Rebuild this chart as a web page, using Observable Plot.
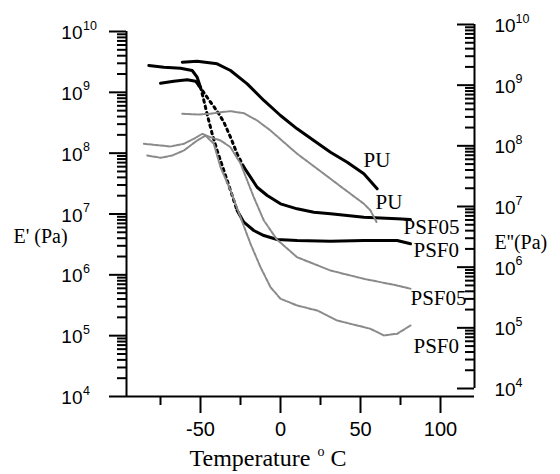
<!DOCTYPE html>
<html><head><meta charset="utf-8">
<script src="https://cdn.jsdelivr.net/npm/d3@7"></script>
<script src="https://cdn.jsdelivr.net/npm/@observablehq/plot@0.6"></script>
<style>
html,body{margin:0;padding:0;background:#fff;}
#chart{position:relative;width:560px;height:474px;}
#chart svg{position:absolute;left:0;top:0;}
</style></head><body><div id="chart"></div>
<script>
// ---------- axes / ticks ----------
const temperatureDomain = [-96.25, 121.25];
const xMajorTicks = [-50, 0, 50, 100];
const xMinorTicks = [-75, -25, 25, 75];
const decadeExponents = [4, 5, 6, 7, 8, 9, 10];
const minorMultipliers = [2, 3, 4, 5, 6, 7, 8, 9];

// ---------- E' storage modulus (left axis): [temperature °C, log10(Pa)] ----------
const puStorage = [[-61.4,9.495],[-52.1,9.512],[-39.6,9.469],[-31.25,9.359],[-20.8,9.14],[-10.4,8.866],[0,8.619],[10.4,8.40],[20.8,8.208],[31.25,8.016],[41.7,7.852],[52.1,7.66],[60.4,7.414]];
const psf0StorageGlass = [[-82.3,9.441],[-72.9,9.413],[-62.5,9.397],[-55.2,9.359],[-52.1,9.249],[-50,9.084]];
const psf0StorageDrop = [[-50,9.084],[-47.9,8.866],[-45.4,8.591],[-42.7,8.318],[-39.6,8.044],[-35.4,7.715],[-31.25,7.386],[-27.1,7.057]];
const psf0StorageRubber = [[-27.1,7.057],[-22.9,6.865],[-16.7,6.729],[-10.4,6.646],[-2.1,6.581],[10.4,6.564],[31.25,6.553],[52.1,6.564],[72.9,6.564],[81.25,6.51]];
const psf05StorageGlass = [[-75,9.15],[-66.7,9.183],[-58.3,9.206],[-53.1,9.183],[-51,9.112]];
const psf05StorageDrop = [[-51,9.112],[-44.8,8.877],[-41.7,8.767],[-38.5,8.647],[-35.4,8.509],[-31.25,8.263],[-27.1,7.989],[-22.9,7.77]];
const psf05StorageRubber = [[-22.9,7.77],[-18.75,7.605],[-14.6,7.44],[-8.3,7.304],[0,7.167],[10.4,7.085],[20.8,7.03],[31.25,7.003],[41.7,6.975],[52.1,6.947],[72.9,6.921],[81.25,6.909]];

// ---------- E'' loss modulus (right axis): [temperature °C, log10(Pa)] ----------
const puLoss = [[-61.4,8.528],[-52.1,8.517],[-43.75,8.528],[-37.5,8.555],[-31.25,8.571],[-22.9,8.538],[-14.6,8.418],[-6.25,8.253],[2.1,8.06],[10.4,7.869],[18.75,7.704],[27.1,7.539],[35.4,7.374],[43.75,7.209],[52.1,7.045],[56.25,6.934],[60.4,6.725]];
const psf05Loss = [[-85.4,8.034],[-68.75,7.989],[-60.4,8.034],[-54.2,8.116],[-48.9,8.198],[-43.75,8.142],[-37.5,8.088],[-31.25,7.978],[-25,7.709],[-20.8,7.429],[-16.7,7.153],[-10.4,6.769],[-2.1,6.451],[10.4,6.164],[31.25,5.945],[52.1,5.808],[72.9,5.698],[81.25,5.644]];
const psf0Loss = [[-83.3,7.841],[-75,7.803],[-67.7,7.841],[-60.4,7.923],[-52.1,8.088],[-46.9,8.17],[-41.7,8.034],[-37.5,7.648],[-31.25,7.264],[-25,6.824],[-18.75,6.385],[-12.5,6.0],[-6.25,5.67],[0,5.479],[10.4,5.368],[22.9,5.286],[35.4,5.121],[47.9,5.039],[56.25,4.984],[64.6,4.874],[72.9,4.902],[81.25,5.039]];

// ---------- curve labels ----------
const storageLabels = [
  {text: "PU", t: 51.9, v: 7.879},
  {text: "PSF05", t: 76.9, v: 6.786},
  {text: "PSF0", t: 83.1, v: 6.40}
];
const lossLabels = [
  {text: "PU", t: 59.4, v: 7.066},
  {text: "PSF05", t: 81.25, v: 5.484},
  {text: "PSF0", t: 83.1, v: 4.693}
];

const W = 560, H = 474;
const sans = "Liberation Sans, Arial, sans-serif";
const serif = "Liberation Serif, Times New Roman, serif";
const majorVals = decadeExponents.map(k => 10 ** k);
const minorVals = [];
for (const k of decadeExponents.slice(0, -1)) for (const m of minorMultipliers) minorVals.push(m * Math.pow(10, k));
const X = d => d[0], Y = d => 10 ** d[1];
const grey = "#8a8a8a";

function yAxisMarks(side) {
  const left = side === "left";
  return [
    Plot.ruleX([left ? temperatureDomain[0] : temperatureDomain[1]], {stroke: "#000", strokeWidth: 2}),
    Plot.tickY(majorVals, {y: d => d, stroke: "#000", strokeWidth: 2,
      ...(left ? {insetLeft: -17, insetRight: 348} : {insetLeft: 331, insetRight: 0})}),
    Plot.tickY(minorVals, {y: d => d, stroke: "#000", strokeWidth: 2,
      ...(left ? {insetLeft: -9, insetRight: 348} : {insetLeft: 339, insetRight: 0})}),
    Plot.text(decadeExponents, {y: k => 10 ** k, frameAnchor: left ? "left" : "right", text: () => "10",
      textAnchor: left ? "end" : "start", dx: left ? -44 : 20, dy: 1.5, fontSize: 19, fontFamily: sans, fill: "#000"}),
    Plot.text(decadeExponents, {y: k => 10 ** k, frameAnchor: left ? "left" : "right", text: k => String(k),
      textAnchor: "start", dx: left ? -43.5 : 41, dy: -6, fontSize: 12.5, fontFamily: sans, fill: "#000"})
  ];
}

const storagePlot = Plot.plot({
  width: W, height: H, marginLeft: 126, marginRight: 86, marginTop: 31, marginBottom: 78,
  style: {background: "none", overflow: "visible"},
  x: {domain: temperatureDomain, axis: null},
  y: {type: "log", domain: [1e4, 1e10], axis: null},
  marks: [
    Plot.line(puStorage, {x: X, y: Y, stroke: "#000", strokeWidth: 3}),
    Plot.line(psf0StorageGlass, {x: X, y: Y, stroke: "#000", strokeWidth: 3}),
    Plot.line(psf0StorageDrop, {x: X, y: Y, stroke: "#000", strokeWidth: 3, strokeDasharray: "2.5,4"}),
    Plot.line(psf0StorageRubber, {x: X, y: Y, stroke: "#000", strokeWidth: 3}),
    Plot.line(psf05StorageGlass, {x: X, y: Y, stroke: "#000", strokeWidth: 3}),
    Plot.line(psf05StorageDrop, {x: X, y: Y, stroke: "#000", strokeWidth: 3, strokeDasharray: "2.5,4"}),
    Plot.line(psf05StorageRubber, {x: X, y: Y, stroke: "#000", strokeWidth: 3}),
    Plot.ruleY([1e4], {stroke: "#000", strokeWidth: 2}),
    ...yAxisMarks("left"),
    Plot.tickX(xMajorTicks, {x: d => d, insetTop: 365, insetBottom: -17, stroke: "#000", strokeWidth: 2}),
    Plot.tickX(xMinorTicks, {x: d => d, insetTop: 365, insetBottom: -9, stroke: "#000", strokeWidth: 2}),
    Plot.text(xMajorTicks, {x: d => d, frameAnchor: "bottom", dy: 39.5, text: d => String(d), fontSize: 20, fontFamily: sans, fill: "#000"}),
    Plot.text(["Temperature"], {frameAnchor: "bottom-left", dx: 63, dy: 69, text: d => d, textAnchor: "start", lineAnchor: "bottom", fontSize: 24, fontFamily: serif, fill: "#000"}),
    Plot.text(["o"], {frameAnchor: "bottom-left", dx: 191, dy: 59, text: d => d, textAnchor: "start", lineAnchor: "bottom", fontSize: 14, fontFamily: serif, fill: "#000"}),
    Plot.text(["C"], {frameAnchor: "bottom-left", dx: 204, dy: 69, text: d => d, textAnchor: "start", lineAnchor: "bottom", fontSize: 24, fontFamily: serif, fill: "#000"}),
    Plot.text(["E' (Pa)"], {frameAnchor: "left", dx: -113, dy: 23, text: d => d, textAnchor: "start", fontSize: 20, fontFamily: serif, fill: "#000"}),
    Plot.text(storageLabels, {x: "t", y: d => 10 ** d.v, text: "text", textAnchor: "start", fontSize: 21, fontFamily: serif, fill: "#000"})
  ]
});

const lossPlot = Plot.plot({
  width: W, height: H, marginLeft: 126, marginRight: 86, marginTop: 24, marginBottom: 86,
  style: {background: "none", overflow: "visible"},
  x: {domain: temperatureDomain, axis: null},
  y: {type: "log", domain: [1e4, 1e10], axis: null},
  marks: [
    Plot.line(puLoss, {x: X, y: Y, stroke: grey, strokeWidth: 2, strokeDasharray: "4,1.5"}),
    Plot.line(psf05Loss, {x: X, y: Y, stroke: grey, strokeWidth: 2, strokeDasharray: "4,1.5"}),
    Plot.line(psf0Loss, {x: X, y: Y, stroke: grey, strokeWidth: 2, strokeDasharray: "4,1.5"}),
    ...yAxisMarks("right"),
    Plot.text(["E''(Pa)"], {frameAnchor: "right", dx: 20, dy: 36, text: d => d, textAnchor: "start", fontSize: 20, fontFamily: serif, fill: "#000"}),
    Plot.text(lossLabels, {x: "t", y: d => 10 ** d.v, text: "text", textAnchor: "start", fontSize: 21, fontFamily: serif, fill: "#000"})
  ]
});

const chart = document.getElementById("chart");
chart.appendChild(storagePlot);
chart.appendChild(lossPlot);
</script>
</body></html>
